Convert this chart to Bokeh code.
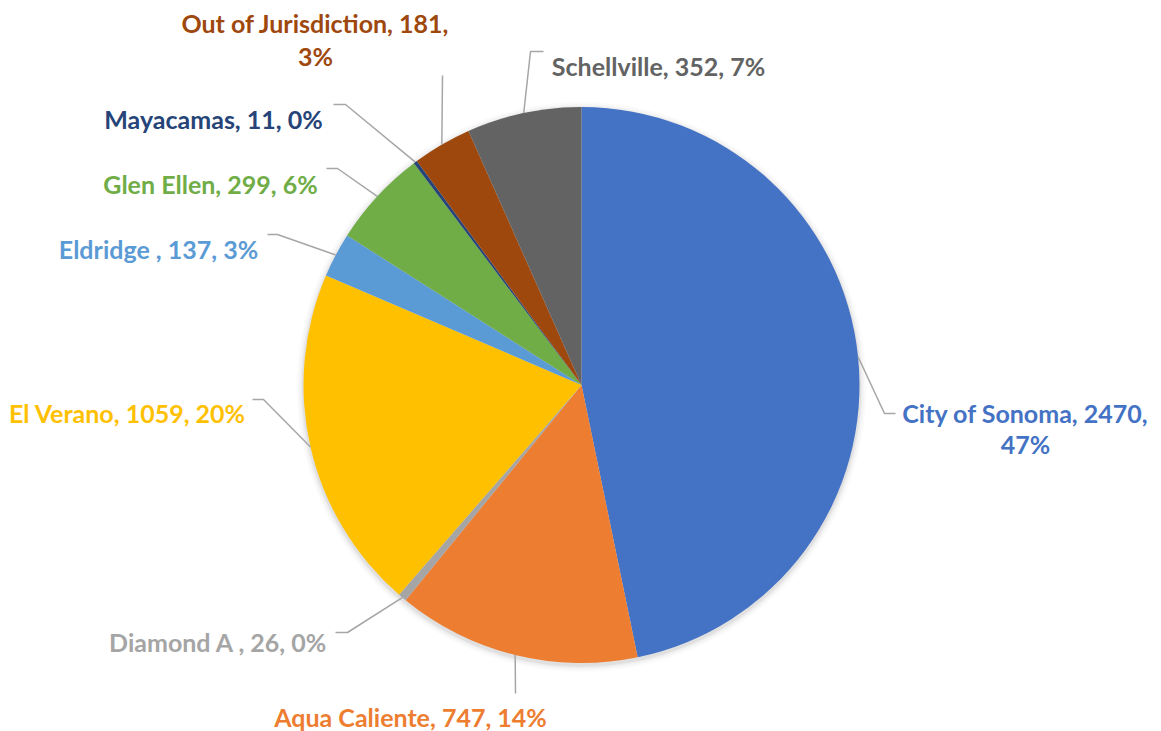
import math
from bokeh.plotting import figure
from bokeh.models import Range1d, ColumnDataSource
from bokeh.core.properties import value
from bokeh.embed import file_html
from bokeh.resources import INLINE

# ---- data ----
categories = ["City of Sonoma", "Aqua Caliente", "Diamond A ", "El Verano", "Eldridge ",
              "Glen Ellen", "Mayacamas", "Out of Jurisdiction", "Schellville"]
counts = [2470, 747, 26, 1059, 137, 299, 11, 181, 352]
colors = ["#4472C4", "#ED7D31", "#A5A5A5", "#FFC000", "#5B9BD5",
          "#70AD47", "#264478", "#9E480E", "#636363"]

# ---- layout (page pixel coordinates) ----
W, H = 1161, 731
CX, CY, R = 581, 384.5, 278
FONT = "Lato"
FSIZE = "25px"

def Y(py):
    return H - py

p = figure(width=W, height=H, output_backend="svg", toolbar_location=None,
           x_range=Range1d(0, W), y_range=Range1d(0, H), min_border=0)
p.axis.visible = False
p.grid.visible = False
p.outline_line_color = None
p.background_fill_color = "white"

total = sum(counts)
starts, ends, mids = [], [], []
a = math.pi / 2
for c in counts:
    span = 2 * math.pi * c / total
    starts.append(a)
    ends.append(a - span)
    mids.append(a - span / 2)
    a -= span

# soft shadow
for k, al in [(7, 0.015), (5, 0.025), (3, 0.035), (1.5, 0.05)]:
    p.circle(x=CX, y=Y(CY + 2), radius=R + k, fill_color="#000000",
             fill_alpha=al, line_color=None)

src = ColumnDataSource(dict(start=starts, end=ends, color=colors))
p.wedge(x=CX, y=Y(CY), radius=R, start_angle="start", end_angle="end",
        direction="clock", fill_color="color", line_color=None, source=src)

# leader line elbows: list of points after the slice-edge point
elbows = [
    [(884, 413), (895, 413)],
    [(515, 693)],
    [(347, 632), (335, 632)],
    [(263, 399), (252, 399)],
    [(277, 234), (267, 234)],
    [(337, 168), (326, 168)],
    [(345, 104), (333, 104)],
    [(442, 75)],
    [(530, 51), (543, 51)],
]
xs, ys = [], []
for m, el in zip(mids, elbows):
    px = CX + R * math.cos(m)
    py = CY - R * math.sin(m)
    xs.append([px] + [e[0] for e in el])
    ys.append([Y(py)] + [Y(e[1]) for e in el])
p.multi_line(xs=xs, ys=ys, line_color="#A6A6A6", line_width=1.5)

# labels
label_lines = [
    [f"{categories[0]}, {counts[0]},", f"{round(100*counts[0]/total)}%"],
    [f"{categories[1]}, {counts[1]}, {round(100*counts[1]/total)}%"],
    [f"{categories[2]}, {counts[2]}, {round(100*counts[2]/total)}%"],
    [f"{categories[3]}, {counts[3]}, {round(100*counts[3]/total)}%"],
    [f"{categories[4]}, {counts[4]}, {round(100*counts[4]/total)}%"],
    [f"{categories[5]}, {counts[5]}, {round(100*counts[5]/total)}%"],
    [f"{categories[6]}, {counts[6]}, {round(100*counts[6]/total)}%"],
    [f"{categories[7]}, {counts[7]},", f"{round(100*counts[7]/total)}%"],
    [f"{categories[8]}, {counts[8]}, {round(100*counts[8]/total)}%"],
]
label_pos = [
    [(1025, 412), (1025, 443)],
    [(410, 716)],
    [(218, 641)],
    [(127, 412)],
    [(158, 248)],
    [(210, 183)],
    [(213, 118)],
    [(315, 22), (315, 55)],
    [(658, 65)],
]
tx, ty, tt, tc = [], [], [], []
for lines, poss, col in zip(label_lines, label_pos, colors):
    for t, (lx, ly) in zip(lines, poss):
        tx.append(lx); ty.append(Y(ly)); tt.append(t); tc.append(col)
p.text(x=tx, y=ty, text=tt, text_color=tc, text_font=value(FONT),
       text_font_style="bold", text_font_size=FSIZE,
       text_align="center", text_baseline="middle")

open("out.html", "w").write(file_html(p, INLINE))
